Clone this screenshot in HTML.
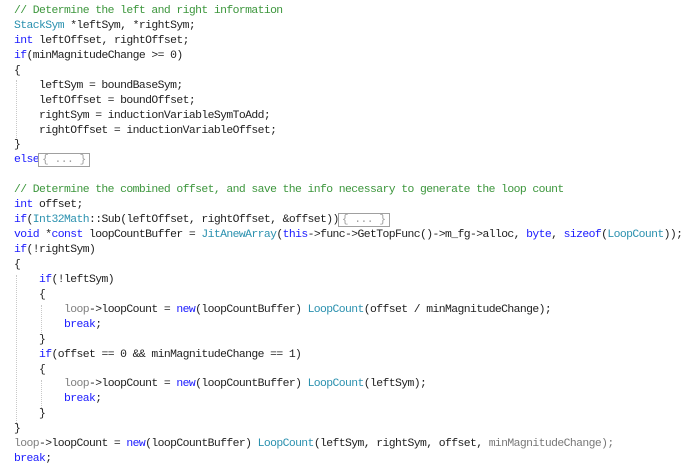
<!DOCTYPE html>
<html><head><meta charset="utf-8"><style>
html,body{margin:0;padding:0;background:#fff;width:698px;height:466px;overflow:hidden}
pre{position:absolute;left:14px;top:4px;margin:0;font-family:"Liberation Mono",monospace;font-size:11.4px;letter-spacing:-0.59px;line-height:14.93px;color:#1e1e1e}
.c{color:#3c963c}.k{color:#1a1aff}.t{color:#2b91af}.g{color:#808080}
.b{outline:1px solid #a0a0a0;outline-offset:0;color:#a0a0a0;padding:0 3px}
.gd{position:absolute;border-left:1px dotted #c8c8c8;width:0}
</style></head><body>
<div class="gd" style="left:16px;top:80px;height:60px"></div>
<div class="gd" style="left:16px;top:275px;height:150px"></div>
<div class="gd" style="left:41px;top:305px;height:30px"></div>
<div class="gd" style="left:41px;top:380px;height:30px"></div>
<pre><span class="c">// Determine the left and right information</span>
<span class="t">StackSym</span> *leftSym, *rightSym;
<span class="k">int</span> leftOffset, rightOffset;
<span class="k">if</span>(minMagnitudeChange &gt;= 0)
{
    leftSym = boundBaseSym;
    leftOffset = boundOffset;
    rightSym = inductionVariableSymToAdd;
    rightOffset = inductionVariableOffset;
}
<span class="k">else</span><span class="b">{ ... }</span>

<span class="c">// Determine the combined offset, and save the info necessary to generate the loop count</span>
<span class="k">int</span> offset;
<span class="k">if</span>(<span class="t">Int32Math</span>::Sub(leftOffset, rightOffset, &amp;offset))<span class="b">{ ... }</span>
<span class="k">void</span> *<span class="k">const</span> loopCountBuffer = <span class="t">JitAnewArray</span>(<span class="k">this</span>-&gt;func-&gt;GetTopFunc()-&gt;m_fg-&gt;alloc, <span class="k">byte</span>, <span class="k">sizeof</span>(<span class="t">LoopCount</span>));
<span class="k">if</span>(!rightSym)
{
    <span class="k">if</span>(!leftSym)
    {
        <span class="g">loop</span>-&gt;loopCount = <span class="k">new</span>(loopCountBuffer) <span class="t">LoopCount</span>(offset / minMagnitudeChange);
        <span class="k">break</span>;
    }
    <span class="k">if</span>(offset == 0 &amp;&amp; minMagnitudeChange == 1)
    {
        <span class="g">loop</span>-&gt;loopCount = <span class="k">new</span>(loopCountBuffer) <span class="t">LoopCount</span>(leftSym);
        <span class="k">break</span>;
    }
}
<span class="g">loop</span>-&gt;loopCount = <span class="k">new</span>(loopCountBuffer) <span class="t">LoopCount</span>(leftSym, rightSym, offset, <span style="color:#777">minMagnitudeChange);</span>
<span class="k">break</span>;</pre>
</body></html>
